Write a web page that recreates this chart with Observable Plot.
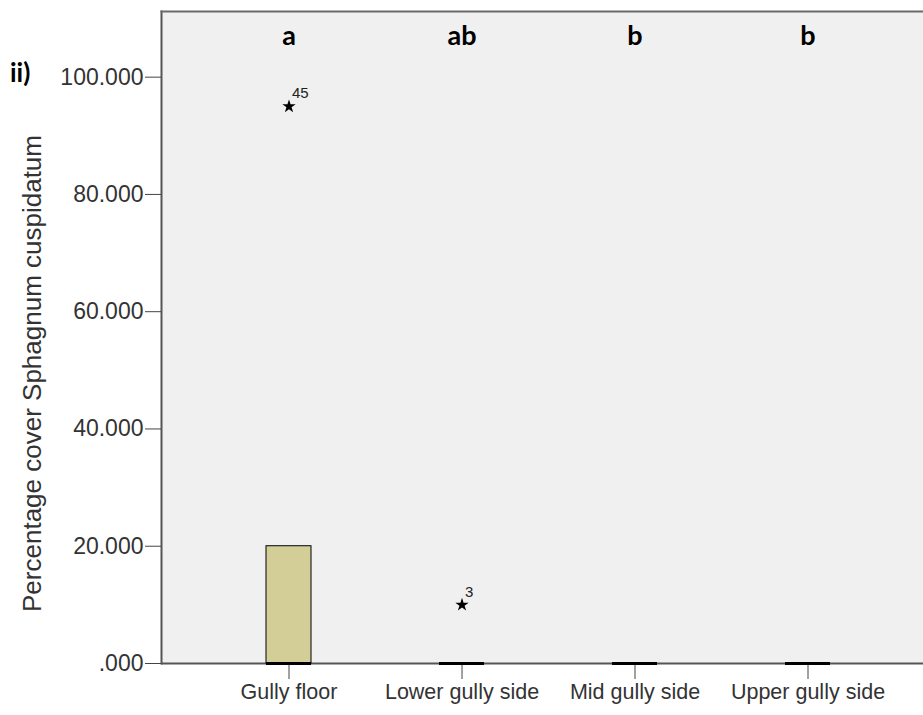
<!DOCTYPE html>
<html><head><meta charset="utf-8">
<script src="https://cdn.jsdelivr.net/npm/d3@7"></script>
<script src="https://cdn.jsdelivr.net/npm/@observablehq/plot@0.6"></script>
<style>
body{margin:0;background:#fff}
#wrap{position:relative;width:923px;height:715px}
#tag{position:absolute;left:10px;top:56px;font:bold 26px Lato, sans-serif;color:#000}
</style>
</head><body><div id="wrap"><div id="tag">ii)</div></div>
<script>
const categories = ["Gully floor", "Lower gully side", "Mid gully side", "Upper gully side"];
const q1 = [0, 0, 0, 0];
const median = [0, 0, 0, 0];
const q3 = [20, 0, 0, 0];
const groupLetters = ["a", "ab", "b", "b"];
const outlierCategory = ["Gully floor", "Lower gully side"];
const outlierValue = [95, 10];
const outlierLabel = ["45", "3"];
const yTicks = [0, 20, 40, 60, 80, 100];
const yLabel = "Percentage cover Sphagnum cuspidatum";
const letterY = 105.5;

const boxes = categories.map((c, i) => ({c, q1: q1[i], med: median[i], q3: q3[i], letter: groupLetters[i]}));
const outliers = outlierCategory.map((c, i) => ({c, v: outlierValue[i], label: outlierLabel[i]}));

const chart = Plot.plot({
  width: 923,
  height: 715,
  marginLeft: 161,
  marginRight: 0,
  marginTop: 11,
  marginBottom: 52,
  style: {fontFamily: "'Liberation Sans', Arial, sans-serif", fontSize: "21px", color: "#333", background: "transparent"},
  x: {type: "band", domain: categories, range: [200.2, 894.8], paddingInner: 0.741, paddingOuter: 0.37, align: 0.5},
  y: {domain: [0, 111.2]},
  marks: [
    Plot.frame({fill: "#f0f0f0"}),
    Plot.frame({anchor: "left", stroke: "#555", strokeWidth: 2}),
    Plot.frame({anchor: "top", stroke: "#6a6a6a", strokeWidth: 2}),
    Plot.ruleY([0], {stroke: "#555", strokeWidth: 2}),
    Plot.axisY({
      ticks: yTicks,
      tickFormat: v => v === 0 ? ".000" : v.toFixed(3),
      tickSize: 16, tickPadding: 2, fontSize: 23,
      label: null,
      stroke: "#444"
    }),
    Plot.text([yLabel], {frameAnchor: "left", textAnchor: "middle", rotate: -90, dx: -129, dy: 36, fontSize: 26, fill: "#333", text: d => d}),
    Plot.axisX({tickSize: 16, tickPadding: 4, fontSize: 21.5, label: null, stroke: "#444"}),
    Plot.barY(boxes.filter(d => d.q3 > d.q1), {x: "c", y1: "q1", y2: "q3", fill: "#d3ce98", stroke: "#000", strokeWidth: 1}),
    Plot.tickY(boxes, {x: "c", y: "med", stroke: "#000", strokeWidth: 3}),
    Plot.dot(outliers, {x: "c", y: "v", symbol: "star", r: 4.2, fill: "#000", stroke: "none"}),
    Plot.text(outliers, {x: "c", y: "v", text: "label", dx: 3, dy: -13, textAnchor: "start", fontSize: 15, fill: "#222"}),
    Plot.text(boxes, {x: "c", y: letterY, text: "letter", fontSize: 27, fontWeight: "bold", fontFamily: "Lato, sans-serif", fill: "#000", lineAnchor: "bottom"})
  ]
});
document.getElementById("wrap").prepend(chart);
chart.style.position = "absolute";
chart.style.left = "0";
chart.style.top = "0";
</script>
</body></html>
